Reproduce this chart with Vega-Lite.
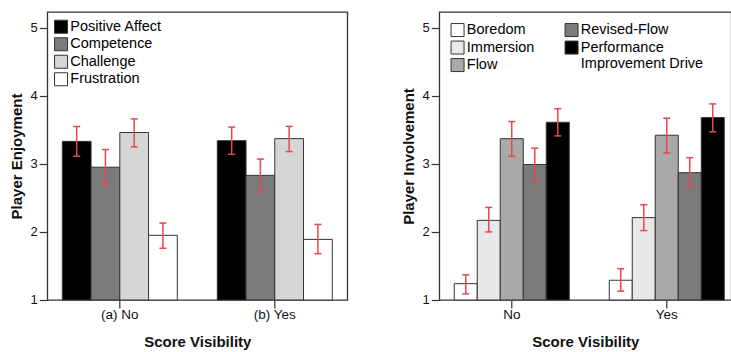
{
  "$schema": "https://vega.github.io/schema/vega-lite/v6.json",
  "padding": {"left": 8.3, "top": 11, "right": 0, "bottom": 3},
  "background": "white",
  "datasets": {
    "enjoy": [
      {"vis": "(a) No", "measure": "Positive Affect", "mean": 3.33, "lo": 3.11, "hi": 3.55},
      {"vis": "(a) No", "measure": "Competence", "mean": 2.95, "lo": 2.69, "hi": 3.21},
      {"vis": "(a) No", "measure": "Challenge", "mean": 3.46, "lo": 3.25, "hi": 3.66},
      {"vis": "(a) No", "measure": "Frustration", "mean": 1.95, "lo": 1.76, "hi": 2.13},
      {"vis": "(b) Yes", "measure": "Positive Affect", "mean": 3.34, "lo": 3.14, "hi": 3.54},
      {"vis": "(b) Yes", "measure": "Competence", "mean": 2.83, "lo": 2.59, "hi": 3.07},
      {"vis": "(b) Yes", "measure": "Challenge", "mean": 3.37, "lo": 3.18, "hi": 3.55},
      {"vis": "(b) Yes", "measure": "Frustration", "mean": 1.89, "lo": 1.68, "hi": 2.11}
    ],
    "involve": [
      {"vis": "No", "measure": "Boredom", "mean": 1.24, "lo": 1.09, "hi": 1.37},
      {"vis": "No", "measure": "Immersion", "mean": 2.17, "lo": 2.0, "hi": 2.36},
      {"vis": "No", "measure": "Flow", "mean": 3.37, "lo": 3.11, "hi": 3.62},
      {"vis": "No", "measure": "Revised-Flow", "mean": 2.99, "lo": 2.75, "hi": 3.23},
      {"vis": "No", "measure": "Performance Improvement Drive", "mean": 3.61, "lo": 3.41, "hi": 3.81},
      {"vis": "Yes", "measure": "Boredom", "mean": 1.29, "lo": 1.13, "hi": 1.46},
      {"vis": "Yes", "measure": "Immersion", "mean": 2.21, "lo": 2.02, "hi": 2.4},
      {"vis": "Yes", "measure": "Flow", "mean": 3.42, "lo": 3.16, "hi": 3.67},
      {"vis": "Yes", "measure": "Revised-Flow", "mean": 2.87, "lo": 2.66, "hi": 3.09},
      {"vis": "Yes", "measure": "Performance Improvement Drive", "mean": 3.68, "lo": 3.47, "hi": 3.88}
    ]
  },
  "config": {
    "font": "Liberation Sans",
    "view": {"stroke": "#333", "strokeWidth": 1.3},
    "axis": {
      "domain": false,
      "grid": false,
      "tickColor": "#333",
      "tickWidth": 1.2,
      "tickSize": 8,
      "labelFont": "Liberation Sans",
      "labelColor": "#111",
      "titleFont": "Liberation Sans",
      "titleColor": "#111",
      "titleFontWeight": "bold",
      "titleFontSize": 15
    },
    "axisX": {"labelFontSize": 13.5, "labelPadding": 0, "titlePadding": 13.5, "labelAngle": 0},
    "axisY": {"labelFontSize": 13, "labelPadding": 2, "titlePadding": 6},
    "legend": {
      "orient": "none",
      "title": null,
      "padding": 0,
      "symbolType": "square",
      "symbolSize": 169,
      "symbolStrokeColor": "#333",
      "symbolStrokeWidth": 1,
      "symbolOpacity": 1,
      "labelFont": "Liberation Sans",
      "labelFontSize": 14.5,
      "labelColor": "#000",
      "labelOffset": 2,
      "rowPadding": -0.5
    },
    "tick": {"opacity": 1}
  },
  "bounds": "flush",
  "spacing": 92,
  "resolve": {"scale": {"xOffset": "independent", "x": "independent", "y": "independent", "fill": "independent"}},
  "hconcat": [
    {
      "width": 300,
      "height": 288,
      "data": {"name": "enjoy"},
      "encoding": {
        "x": {
          "field": "vis",
          "type": "nominal",
          "title": "Score Visibility",
          "scale": {"paddingInner": 0.258, "paddingOuter": 0.097}
        },
        "xOffset": {
          "field": "measure",
          "type": "nominal",
          "scale": {
            "domain": ["Positive Affect", "Competence", "Challenge", "Frustration"],
            "paddingInner": 0,
            "paddingOuter": 0
          }
        },
        "y": {
          "field": "mean",
          "type": "quantitative",
          "title": "Player Enjoyment",
          "scale": {"domain": [1, 5.23], "nice": false, "zero": false},
          "axis": {"values": [1, 2, 3, 4, 5]}
        }
      },
      "layer": [
        {
          "mark": {"type": "bar", "stroke": "#333", "strokeWidth": 1},
          "encoding": {
            "y2": {"datum": 1},
            "fill": {
              "field": "measure",
              "type": "nominal",
              "scale": {
                "domain": ["Positive Affect", "Competence", "Challenge", "Frustration"],
                "range": ["#000000", "#7b7b7b", "#d6d6d6", "#ffffff"]
              },
              "legend": {"legendX": 6.5, "legendY": 7.5}
            }
          }
        },
        {
          "mark": {"type": "rule", "color": "#e8474c", "strokeWidth": 1.5},
          "encoding": {
            "y": {"field": "lo", "type": "quantitative", "title": "Player Enjoyment"},
            "y2": {"field": "hi"}
          }
        },
        {
          "mark": {"type": "tick", "color": "#e8474c", "thickness": 1.5, "size": 7},
          "encoding": {"y": {"field": "lo", "type": "quantitative", "title": "Player Enjoyment"}}
        },
        {
          "mark": {"type": "tick", "color": "#e8474c", "thickness": 1.5, "size": 7},
          "encoding": {"y": {"field": "hi", "type": "quantitative", "title": "Player Enjoyment"}}
        }
      ]
    },
    {
      "width": 292,
      "height": 288,
      "data": {"name": "involve"},
      "encoding": {
        "x": {
          "field": "vis",
          "type": "nominal",
          "title": "Score Visibility",
          "scale": {"paddingInner": 0.258, "paddingOuter": 0.071, "align": 0.68}
        },
        "xOffset": {
          "field": "measure",
          "type": "nominal",
          "scale": {
            "domain": ["Boredom", "Immersion", "Flow", "Revised-Flow", "Performance Improvement Drive"],
            "paddingInner": 0,
            "paddingOuter": 0
          }
        },
        "y": {
          "field": "mean",
          "type": "quantitative",
          "title": "Player Involvement",
          "scale": {"domain": [1, 5.23], "nice": false, "zero": false},
          "axis": {"values": [1, 2, 3, 4, 5]}
        }
      },
      "layer": [
        {
          "transform": [{"filter": {"field": "measure", "oneOf": ["Boredom", "Immersion", "Flow"]}}],
          "mark": {"type": "bar", "stroke": "#333", "strokeWidth": 1},
          "encoding": {
            "y2": {"datum": 1},
            "fill": {
              "field": "measure",
              "type": "nominal",
              "scale": {
                "domain": ["Boredom", "Immersion", "Flow"],
                "range": ["#ffffff", "#e8e8e8", "#a9a9a9"]
              },
              "legend": {"legendX": 11, "legendY": 10.8}
            }
          }
        },
        {
          "transform": [{"filter": {"field": "measure", "oneOf": ["Revised-Flow", "Performance Improvement Drive"]}}],
          "mark": {"type": "bar", "stroke": "#333", "strokeWidth": 1},
          "encoding": {
            "y2": {"datum": 1},
            "fill": {
              "field": "measure",
              "type": "nominal",
              "scale": {
                "domain": ["Revised-Flow", "Performance Improvement Drive"],
                "range": ["#7b7b7b", "#000000"]
              },
              "legend": {
                "legendX": 125,
                "legendY": 10.8,
                "labelExpr": "datum.label == 'Performance Improvement Drive' ? ['Performance', 'Improvement Drive'] : datum.label"
              }
            }
          }
        },
        {
          "mark": {"type": "rule", "color": "#e8474c", "strokeWidth": 1.5},
          "encoding": {
            "y": {"field": "lo", "type": "quantitative", "title": "Player Involvement"},
            "y2": {"field": "hi"}
          }
        },
        {
          "mark": {"type": "tick", "color": "#e8474c", "thickness": 1.5, "size": 7},
          "encoding": {"y": {"field": "lo", "type": "quantitative", "title": "Player Involvement"}}
        },
        {
          "mark": {"type": "tick", "color": "#e8474c", "thickness": 1.5, "size": 7},
          "encoding": {"y": {"field": "hi", "type": "quantitative", "title": "Player Involvement"}}
        }
      ],
      "resolve": {"scale": {"fill": "independent"}}
    }
  ]
}
